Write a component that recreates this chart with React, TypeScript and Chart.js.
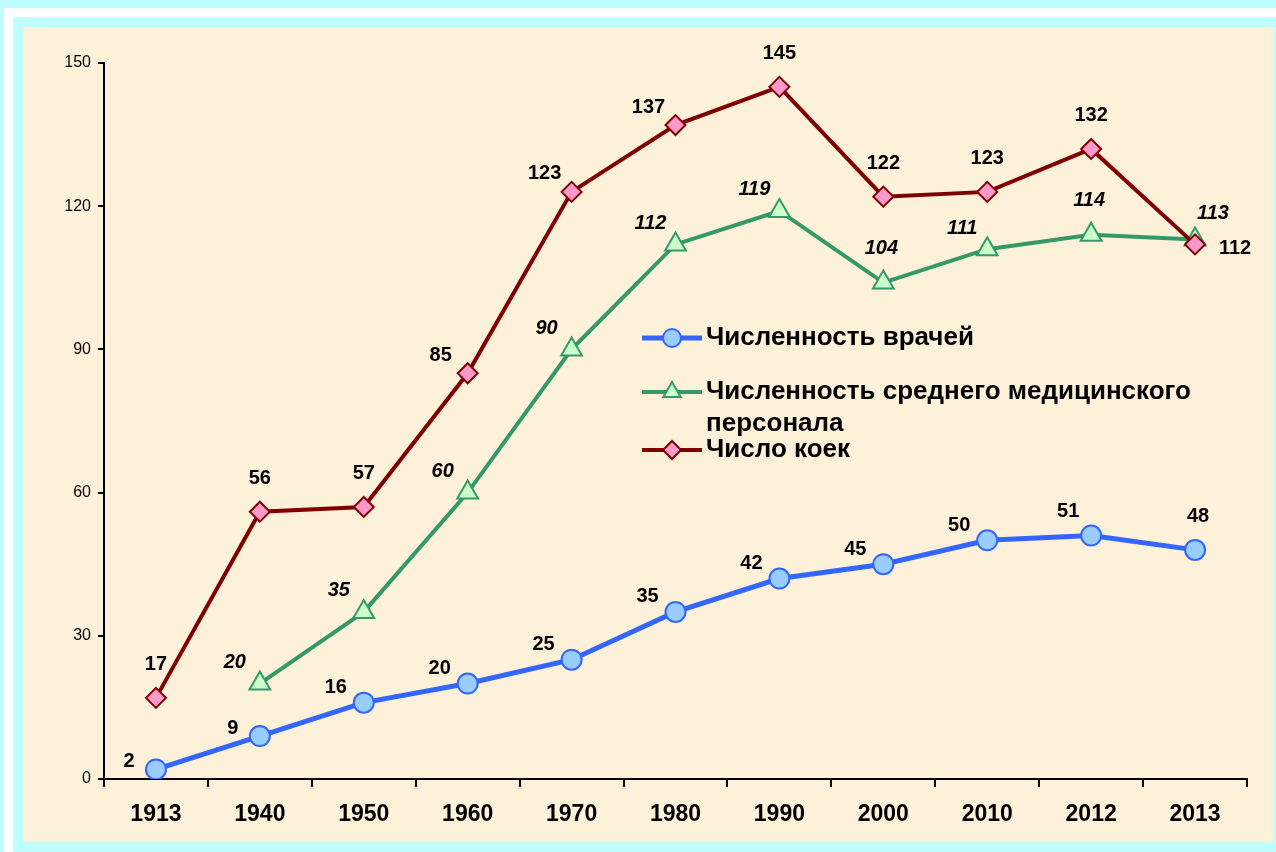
import React, { useEffect, useRef } from "react";
import { Chart, registerables } from "chart.js";

Chart.register(...registerables);

const years = ["1913", "1940", "1950", "1960", "1970", "1980", "1990", "2000", "2010", "2012", "2013"];
const doctors = [2, 9, 16, 20, 25, 35, 42, 45, 50, 51, 48];
const nurses = [null, 20, 35, 60, 90, 112, 119, 104, 111, 114, 113];
const beds = [17, 56, 57, 85, 123, 137, 145, 122, 123, 132, 112];
const yTicks = [0, 30, 60, 90, 120, 150];

const seriesNames = [
  "Численность врачей",
  "Численность среднего медицинского|персонала",
  "Число коек",
];

// label placement codes per point
const doctorsLabelPlace = ["w", "w", "nw", "nw", "nw", "nw", "nw", "nw", "nw", "nw2", "n"];
const nursesLabelPlace = ["", "nw", "nw", "nw", "nw", "nw", "nw", "n", "nw", "n", "ne"];
const bedsLabelPlace = ["n", "n", "n", "nw", "nw", "nw", "n", "n", "n", "n", "e"];

const FONT = "'Liberation Sans', Arial, Helvetica, sans-serif";

const BLUE = "#3366FF";
const BLUE_FILL = "#99CCFF";
const GREEN = "#339966";
const GREEN_FILL = "#CCFFCC";
const RED = "#800000";
const RED_FILL = "#FF99CC";

const offsetsBy: Record<string, Record<string, [number, number]>> = {
  doctors: { w: [-27, -8], nw: [-28, -15], nw2: [-23, -24], n: [3, -33] },
  nurses: { nw: [-25, -21], n: [-2, -34], ne: [18, -26] },
  beds: { n: [0, -33], nw: [-27, -18], e: [40, 4] },
};

const labelsPlugin = {
  id: "valueLabels",
  afterDatasetsDraw(chart: any) {
    const ctx = chart.ctx;
    const cfgs = [
      { key: "doctors", place: doctorsLabelPlace, italic: false },
      { key: "nurses", place: nursesLabelPlace, italic: true },
      { key: "beds", place: bedsLabelPlace, italic: false },
    ];
    chart.data.datasets.forEach((ds: any, di: number) => {
      const meta = chart.getDatasetMeta(di);
      const cfg = cfgs[di];
      meta.data.forEach((pt: any, i: number) => {
        const v = ds.data[i];
        if (v === null || v === undefined) return;
        const code = cfg.place[i];
        const off = offsetsBy[cfg.key][code] || [0, -30];
        ctx.save();
        ctx.font = `${cfg.italic ? "italic " : ""}bold 20px ${FONT}`;
        ctx.fillStyle = "#000";
        ctx.textAlign = "center";
        ctx.textBaseline = "middle";
        ctx.fillText(String(v), pt.x + off[0], pt.y + off[1]);
        ctx.restore();
      });
    });
  },
};

function drawMarker(ctx: CanvasRenderingContext2D, style: string, x: number, y: number, r: number) {
  ctx.beginPath();
  if (style === "circle") {
    ctx.arc(x, y, r, 0, Math.PI * 2);
  } else if (style === "triangle") {
    for (let k = 0; k < 3; k++) {
      const a = (k * 2 * Math.PI) / 3;
      const px = x + Math.sin(a) * r;
      const py = y - Math.cos(a) * r;
      if (k === 0) ctx.moveTo(px, py);
      else ctx.lineTo(px, py);
    }
    ctx.closePath();
  } else {
    ctx.moveTo(x - r, y);
    ctx.lineTo(x, y - r);
    ctx.lineTo(x + r, y);
    ctx.lineTo(x, y + r);
    ctx.closePath();
  }
  ctx.fill();
  ctx.stroke();
}

const legendPlugin = {
  id: "customLegend",
  afterDraw(chart: any) {
    const ctx = chart.ctx;
    const items = [
      { color: BLUE, fill: BLUE_FILL, style: "circle", y: 311, lw: 5 },
      { color: GREEN, fill: GREEN_FILL, style: "triangle", y: 365, lw: 4 },
      { color: RED, fill: RED_FILL, style: "rectRot", y: 423, lw: 4 },
    ];
    items.forEach((it, idx) => {
      ctx.save();
      ctx.strokeStyle = it.color;
      ctx.lineWidth = it.lw;
      ctx.beginPath();
      ctx.moveTo(619, it.y);
      ctx.lineTo(679, it.y);
      ctx.stroke();
      ctx.fillStyle = it.fill;
      ctx.strokeStyle = it.color;
      ctx.lineWidth = 2;
      const r = it.style === "triangle" ? 10 : 9;
      drawMarker(ctx, it.style, 649, it.y, r);
      ctx.fillStyle = "#000";
      ctx.font = `bold 26px ${FONT}`;
      ctx.textAlign = "left";
      ctx.textBaseline = "middle";
      const lines = seriesNames[idx].split("|");
      lines.forEach((ln, li) => ctx.fillText(ln, 683, it.y + li * 32));
      ctx.restore();
    });
  },
};

export default function App() {
  const ref = useRef<HTMLCanvasElement | null>(null);

  useEffect(() => {
    document.body.style.margin = "0";
    const canvas = ref.current!;
    const chart = new Chart(canvas, {
      type: "line",
      data: {
        labels: years,
        datasets: [
          {
            label: seriesNames[0],
            data: doctors,
            borderColor: BLUE,
            backgroundColor: BLUE_FILL,
            borderWidth: 5,
            pointStyle: "circle",
            pointRadius: 10,
            pointBorderWidth: 2,
            pointBackgroundColor: BLUE_FILL,
            pointBorderColor: BLUE,
            tension: 0,
            order: 3,
          },
          {
            label: seriesNames[1],
            data: nurses,
            borderColor: GREEN,
            backgroundColor: GREEN_FILL,
            borderWidth: 4,
            pointStyle: "triangle",
            pointRadius: 12,
            pointBorderWidth: 2,
            pointBackgroundColor: GREEN_FILL,
            pointBorderColor: GREEN,
            tension: 0,
            order: 2,
          },
          {
            label: seriesNames[2],
            data: beds,
            borderColor: RED,
            backgroundColor: RED_FILL,
            borderWidth: 4,
            pointStyle: "rectRot",
            pointRadius: 10,
            pointBorderWidth: 2,
            pointBackgroundColor: RED_FILL,
            pointBorderColor: RED,
            tension: 0,
            order: 1,
          },
        ],
      },
      options: {
        animation: false,
        responsive: false,
        maintainAspectRatio: false,
        layout: { padding: { top: 36, right: 26, left: 0, bottom: 0 } },
        plugins: {
          legend: { display: false },
          tooltip: { enabled: false },
        },
        scales: {
          x: {
            type: "category",
            offset: true,
            grid: {
              display: true,
              drawOnChartArea: false,
              drawTicks: true,
              tickLength: 8,
              color: "#000",
              lineWidth: 2,
              offset: true,
            },
            border: { display: true, color: "#000", width: 2 },
            ticks: {
              color: "#000",
              font: { family: FONT, size: 23, weight: "bold" },
              padding: 14,
              autoSkip: false,
              maxRotation: 0,
            },
            afterFit(scale: any) {
              scale.height = 63;
            },
          },
          y: {
            min: 0,
            max: 150,
            afterBuildTicks(scale: any) {
              scale.ticks = yTicks.map((v) => ({ value: v }));
            },
            grid: {
              display: true,
              drawOnChartArea: false,
              drawTicks: true,
              tickLength: 6,
              color: "#000",
              lineWidth: 2,
            },
            border: { display: true, color: "#000", width: 2 },
            ticks: {
              color: "#000",
              font: { family: FONT, size: 16 },
              padding: 7,
            },
            afterFit(scale: any) {
              scale.width = 81;
            },
          },
        },
      },
      plugins: [labelsPlugin, legendPlugin],
    } as any);
    return () => chart.destroy();
  }, []);

  return (
    <div
      style={{
        position: "fixed",
        left: 0,
        top: 0,
        width: 1276,
        height: 852,
        background: "#BFFFFF",
        overflow: "hidden",
      }}
    >
      <div
        style={{
          position: "absolute",
          left: 4,
          top: 8,
          width: 1400,
          height: 1000,
          border: "9px solid #FFFFFF",
          boxSizing: "border-box",
        }}
      />
      <div
        style={{
          position: "absolute",
          left: 23,
          top: 27,
          width: 1250,
          height: 815,
          background: "#FDF1DA",
        }}
      >
        <canvas ref={ref} width={1250} height={815} style={{ display: "block", width: 1250, height: 815 }} />
      </div>
    </div>
  );
}
